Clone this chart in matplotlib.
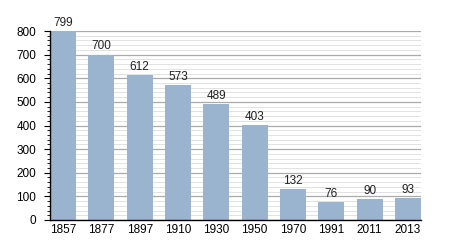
import matplotlib
matplotlib.use("Agg")
import matplotlib.pyplot as plt
from matplotlib.ticker import MultipleLocator

# population by census year
years = ["1857", "1877", "1897", "1910", "1930", "1950", "1970", "1991", "2011", "2013"]
population = [799, 700, 612, 573, 489, 403, 132, 76, 90, 93]

plt.rcParams['font.family'] = ['Liberation Sans', 'DejaVu Sans']

fig = plt.figure(figsize=(4.5, 2.5), dpi=100)
ax = fig.add_axes([50 / 450, 30 / 250, 371 / 450, 189 / 250])

x = list(range(len(years)))
ax.bar(x, population, width=0.68, color="#9ab3cf", zorder=2)

# value labels above the bars
for xi, v in zip(x, population):
    ax.text(xi, v + 9, str(v), ha="center", va="bottom", fontsize=8.5, color="#222222")

ax.set_xlim(-0.34, len(years) - 1 + 0.34)
ax.set_ylim(0, 800)
ax.set_xticks(x)
ax.set_xticklabels(years, fontsize=8.5)

ax.yaxis.set_major_locator(MultipleLocator(100))
ax.yaxis.set_minor_locator(MultipleLocator(20))
ax.tick_params(axis="y", labelsize=8.5, length=4, width=0.8, pad=6)
ax.tick_params(axis="y", which="minor", length=2.5, width=0.6)
ax.tick_params(axis="x", length=0, pad=3)

# gridlines: darker every 100, light every 20
ax.grid(axis="y", which="major", color="#aaaaaa", linewidth=0.9)
ax.grid(axis="y", which="minor", color="#dddddd", linewidth=0.6)
ax.set_axisbelow(True)

for s in ["top", "right"]:
    ax.spines[s].set_visible(False)
ax.spines["left"].set_linewidth(1.0)
ax.spines["bottom"].set_linewidth(1.0)

plt.savefig("out.png", dpi=100)
plt.close()
